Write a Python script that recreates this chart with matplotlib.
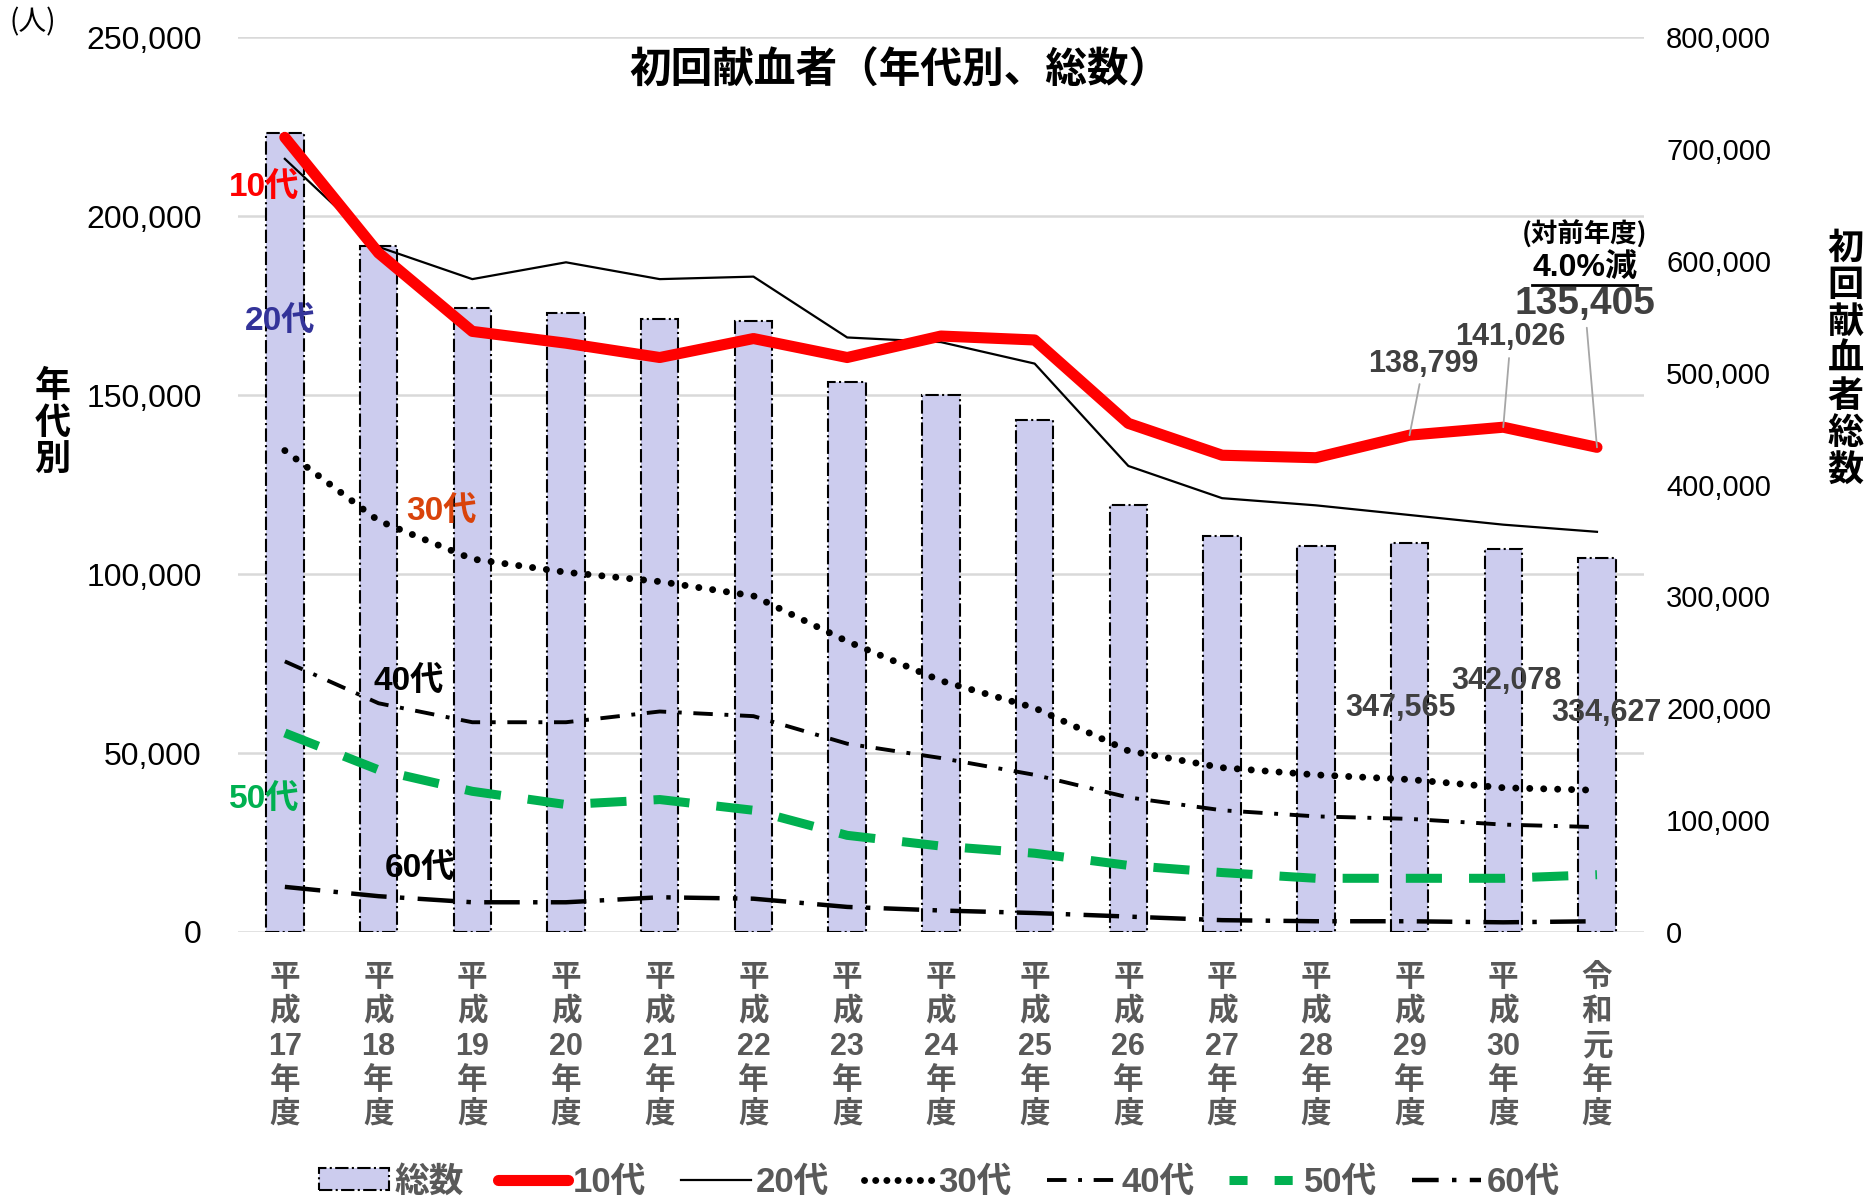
import matplotlib
matplotlib.use("Agg")
import matplotlib.pyplot as plt
from matplotlib.lines import Line2D
from matplotlib.patches import Patch
import matplotlib.ticker as ticker
import numpy as np

plt.rcParams['font.family'] = ['Liberation Sans', 'Noto Sans CJK JP']

# data
years = ['平\n成\n17\n年\n度', '平\n成\n18\n年\n度', '平\n成\n19\n年\n度', '平\n成\n20\n年\n度',
         '平\n成\n21\n年\n度', '平\n成\n22\n年\n度', '平\n成\n23\n年\n度', '平\n成\n24\n年\n度',
         '平\n成\n25\n年\n度', '平\n成\n26\n年\n度', '平\n成\n27\n年\n度', '平\n成\n28\n年\n度',
         '平\n成\n29\n年\n度', '平\n成\n30\n年\n度', '令\n和\n元\n年\n度']
total = [714600, 613000, 558000, 553800, 548000, 546000, 492000, 480000, 458000,
         382000, 353600, 345000, 347565, 342078, 334627]
age10 = [222000, 189700, 167800, 164500, 160500, 165800, 160500, 166500, 165400,
         142100, 133200, 132500, 138799, 141026, 135405]
age20 = [216000, 191400, 182400, 187100, 182400, 183100, 166100, 164800, 158800,
         130200, 121200, 119200, 116500, 113800, 111800]
age30 = [134500, 114900, 104200, 100500, 97900, 93900, 81200, 70200, 62600,
         50600, 45900, 43900, 42600, 40300, 39600]
age40 = [75600, 63900, 58600, 58600, 61600, 60300, 52600, 48600, 43900,
         37600, 34000, 32300, 31600, 30000, 29300]
age50 = [55600, 45300, 39300, 35600, 37000, 34000, 27000, 24000, 22000,
         18600, 16600, 15000, 15000, 15000, 16000]
age60 = [12600, 10000, 8300, 8300, 9700, 9300, 7000, 6000, 5300,
         4300, 3300, 3000, 3000, 2700, 3000]

GRAY = '#595959'
DGRAY = '#404040'
x = np.arange(len(years))

fig = plt.figure(figsize=(18.68, 11.99), dpi=100)
ax = fig.add_axes([0.1274, 0.2227, 0.7526, 0.7463])
ax2 = ax.twinx()

# bars on secondary axis (total)
ax2.bar(x, total, width=0.4, color='#CCCCEE', edgecolor='black', linestyle='-.',
        linewidth=1.5, zorder=1)
ax2.set_ylim(0, 800000)
ax2.yaxis.set_major_locator(ticker.MultipleLocator(100000))
ax2.yaxis.set_major_formatter(ticker.FuncFormatter(lambda v, p: '{:,}'.format(int(v))))
ax2.tick_params(axis='y', length=0, labelsize=21, pad=16)

# lines on primary axis, drawn above bars
ax.set_zorder(ax2.get_zorder() + 1)
ax.patch.set_visible(False)
ax.plot(x, age20, color='black', lw=1.6)
ax.plot(x, age30, color='black', lw=5, linestyle=(0, (0.01, 2.0)), dash_capstyle='round')
ax.plot(x, age40, color='black', lw=2.8, linestyle=(0, (5, 3, 1, 3)))
ax.plot(x, age50, color='#00B050', lw=6.5, linestyle=(0, (4, 3)))
ax.plot(x, age60, color='black', lw=3.2, linestyle=(0, (8, 3, 1, 3)))
ax.plot(x, age10, color='#FF0000', lw=8, solid_capstyle='round', solid_joinstyle='round')

ax.set_xlim(-0.5, len(years) - 0.5)
ax.set_ylim(0, 250000)
ax.yaxis.set_major_locator(ticker.MultipleLocator(50000))
ax.yaxis.set_major_formatter(ticker.FuncFormatter(lambda v, p: '{:,}'.format(int(v))))
ax.tick_params(axis='y', length=0, labelsize=23, pad=26)
ax.set_xticks(x)
ax.set_xticklabels(years, fontsize=22, color=GRAY, fontweight='bold', linespacing=1.2,
                   family=['Liberation Sans', 'Noto Sans CJK JP'])
ax.tick_params(axis='x', length=0, pad=22)
ax2.set_xticks(x)
for a in (ax, ax2):
    for sp in a.spines.values():
        sp.set_visible(False)
ax.yaxis.grid(False)
ax2.yaxis.grid(False)

# gridlines have to sit under bars
for v in np.arange(0, 250001, 50000):
    ax2.axhline(v * 800000 / 250000, color='#D9D9D9', lw=1.8, zorder=0)

# titles / axis labels
fig.text(0.482, 0.941, '初回献血者（年代別、総数）', fontsize=30, fontweight='bold',
         ha='center', va='center', family=['Noto Sans CJK JP'])
fig.text(0.005, 0.981, '(人)', fontsize=20, ha='left', va='center',
         family=['Noto Sans CJK JP'])
fig.text(0.028, 0.647, '年\n代\n別', fontsize=26, fontweight='bold', ha='center',
         va='center', linespacing=1.0, family=['Noto Sans CJK JP'])
fig.text(0.988, 0.700, '初\n回\n献\n血\n者\n総\n数', fontsize=26, fontweight='bold',
         ha='center', va='center', linespacing=1.0, family=['Noto Sans CJK JP'])

# series labels
lab = dict(fontsize=24, fontweight='bold', ha='center', va='center')
ax.text(-0.22, 208000, '10代', color='#FF0000', **lab)
ax.text(-0.05, 170500, '20代', color='#333399', **lab)
ax.text(1.67, 117500, '30代', color='#D9430B', **lab)
ax.text(1.32, 70000, '40代', color='black', **lab)
ax.text(-0.22, 37000, '50代', color='#00B050', **lab)
ax.text(1.44, 17700, '60代', color='black', **lab)

# data labels for total
blab = dict(fontsize=22, fontweight='bold', ha='center', va='center', color=DGRAY)
ax2.text(11.9, 200000, '{:,}'.format(total[12]), **blab)
ax2.text(13.03, 224700, '{:,}'.format(total[13]), **blab)
ax2.text(14.1, 196000, '{:,}'.format(total[14]), **blab)

# data labels for 10代 with leader lines
arr = dict(arrowstyle='-', color='#A6A6A6', lw=1.3, shrinkA=2, shrinkB=0)
ax.annotate('{:,}'.format(age10[12]), xy=(12, age10[12]), xytext=(12.15, 158800),
            ha='center', va='center', fontsize=22, fontweight='bold', color=DGRAY,
            arrowprops=arr)
ax.annotate('{:,}'.format(age10[13]), xy=(13, age10[13]), xytext=(13.08, 166100),
            ha='center', va='center', fontsize=22, fontweight='bold', color=DGRAY,
            arrowprops=arr)
ax.annotate('{:,}'.format(age10[14]), xy=(14, age10[14]), xytext=(13.87, 175400),
            ha='center', va='center', fontsize=28, fontweight='bold', color=DGRAY,
            arrowprops=arr)
ax.text(13.87, 194700, '(対前年度)', fontsize=19, fontweight='bold', ha='center',
        va='center', family=['Noto Sans CJK JP'])
pct = ax.text(13.87, 185300, '4.0%減', fontsize=23, fontweight='bold', ha='center',
              va='center')

# legend
handles = [Patch(facecolor='#CCCCEE', edgecolor='black', linestyle='-.', lw=1.5),
           Line2D([], [], color='#FF0000', lw=8, solid_capstyle='round'),
           Line2D([], [], color='black', lw=1.6),
           Line2D([], [], color='black', lw=5, linestyle=(0, (0.01, 1.6)), dash_capstyle='round'),
           Line2D([], [], color='black', lw=2.8, linestyle=(0, (5, 3, 1, 3))),
           Line2D([], [], color='#00B050', lw=6.5, linestyle=(0, (2, 3))),
           Line2D([], [], color='black', lw=3.2, linestyle=(0, (6, 3, 1, 3)))]
labels = ['総数', '10代', '20代', '30代', '40代', '50代', '60代']
leg = fig.legend(handles, labels, loc='center', bbox_to_anchor=(0.503, 0.014), ncol=7,
                 frameon=False, handlelength=2.0, handleheight=0.6, handletextpad=0.15,
                 columnspacing=1.0, prop={'weight': 'bold', 'size': 25})
for t in leg.get_texts():
    t.set_color(GRAY)

# underline for 4.0%減
fig.canvas.draw()
bb = pct.get_window_extent()
fig.add_artist(Line2D([bb.x0, bb.x1], [bb.y0 - 1, bb.y0 - 1], color='black', lw=2,
                      transform=None))

fig.savefig('out.png', dpi=100)
